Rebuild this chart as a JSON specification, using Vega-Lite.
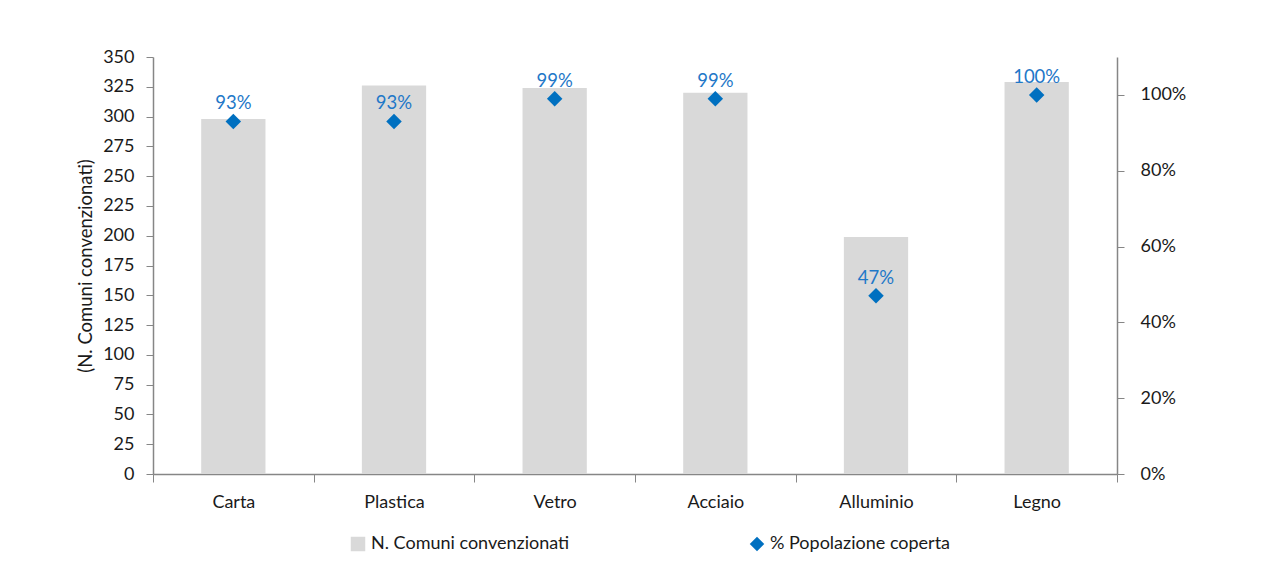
{
  "$schema": "https://vega.github.io/schema/vega-lite/v6.json",
  "width": 964,
  "height": 417,
  "autosize": {"type": "none"},
  "padding": {"left": 153, "top": 57, "right": 159, "bottom": 98},
  "background": "white",
  "config": {
    "view": {"stroke": null},
    "font": "Lato",
    "axis": {"labelFont": "Lato", "titleFont": "Lato", "labelFontSize": 18, "titleFontSize": 18.5, "labelColor": "#1a1a1a", "titleColor": "#1a1a1a", "titleFontWeight": "normal", "domainColor": "#868686", "tickColor": "#868686", "grid": false}
  },
  "data": {"values": [
    {"materiale": "Carta", "comuni": 298, "pct": 0.93},
    {"materiale": "Plastica", "comuni": 326, "pct": 0.93},
    {"materiale": "Vetro", "comuni": 324, "pct": 0.99},
    {"materiale": "Acciaio", "comuni": 320, "pct": 0.99},
    {"materiale": "Alluminio", "comuni": 199, "pct": 0.47},
    {"materiale": "Legno", "comuni": 329, "pct": 1.0}
  ]},
  "encoding": {
    "x": {"field": "materiale", "type": "nominal", "sort": null,
      "scale": {"paddingInner": 0, "paddingOuter": 0},
      "axis": {"title": null, "labelAngle": 0, "tickBand": "extent", "tickSize": 8, "labelPadding": 11, "domainWidth": 1.5}}
  },
  "layer": [
    {
      "mark": {"type": "bar", "width": {"band": 0.4}},
      "encoding": {
        "y": {"field": "comuni", "type": "quantitative",
          "scale": {"domain": [0, 350], "nice": false},
          "axis": {"title": "(N. Comuni convenzionati)", "values": [0,25,50,75,100,125,150,175,200,225,250,275,300,325,350], "tickSize": 7, "labelPadding": 12, "titlePadding": 7, "domainWidth": 1.5}},
        "color": {"datum": "N. Comuni convenzionati", "type": "nominal",
          "scale": {"domain": ["N. Comuni convenzionati", "% Popolazione coperta"], "range": ["#D9D9D9", "#0070C0"]},
          "legend": {"title": null, "orient": "none", "legendX": 196, "legendY": 478, "direction": "horizontal", "labelFontSize": 18, "labelFont": "Lato", "labelColor": "#1a1a1a", "labelLimit": 400, "symbolSize": 210, "columnPadding": 178, "symbolStrokeWidth": 0, "labelOffset": 4,
            "encode": {"symbols": {"update": {"shape": {"signal": "datum.value === '% Popolazione coperta' ? 'diamond' : 'square'"}}}}}}
      }
    },
    {
      "mark": {"type": "point", "filled": true, "size": 240, "opacity": 1, "shape": "diamond"},
      "encoding": {
        "y": {"field": "pct", "type": "quantitative",
          "scale": {"domain": [0, 1.1], "nice": false},
          "axis": {"orient": "right", "title": null, "format": ".0%", "values": [0, 0.2, 0.4, 0.6, 0.8, 1.0], "tickSize": 7, "labelPadding": 16, "domainWidth": 1.5}},
        "color": {"datum": "% Popolazione coperta", "type": "nominal"}
      }
    },
    {
      "mark": {"type": "text", "dy": -18, "fontSize": 18.5, "color": "#1F78C8", "font": "Lato"},
      "encoding": {
        "y": {"field": "pct", "type": "quantitative", "scale": {"domain": [0, 1.1], "nice": false}, "axis": null},
        "text": {"field": "pct", "type": "quantitative", "format": ".0%"}
      }
    }
  ],
  "resolve": {"scale": {"y": "independent"}}
}
